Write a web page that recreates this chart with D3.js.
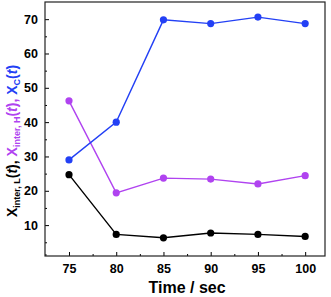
<!DOCTYPE html>
<html>
<head>
<meta charset="utf-8">
<script src="https://cdn.jsdelivr.net/npm/d3@7"></script>
<style>
  body { margin: 0; background: #fff; }
  text { font-family: "Liberation Sans", Arial, sans-serif; font-weight: bold; }
</style>
</head>
<body>
<svg id="chart" width="331" height="297"></svg>
<script>
const times = [75, 80, 85, 90, 95, 100];
const xC = [29, 40, 69.8, 68.7, 70.6, 68.7];
const xInterH = [46.2, 19.4, 23.7, 23.4, 22.0, 24.4];
const xInterL = [24.7, 7.3, 6.3, 7.7, 7.3, 6.7];
const xTicks = [75, 80, 85, 90, 95, 100];
const yTicks = [10, 20, 30, 40, 50, 60, 70];

const series = [
  { name: "L", values: xInterL, color: "#000000" },
  { name: "H", values: xInterH, color: "#b043f0" },
  { name: "C", values: xC, color: "#2340f5" }
];

const margin = { left: 45, right: 6, top: 2, bottom: 41 },
      W = 331, H = 297,
      width = W - margin.left - margin.right,
      height = H - margin.top - margin.bottom;

const svg = d3.select("#chart");
const chart = svg.append("g")
    .attr("transform", `translate(${margin.left}, ${margin.top})`);

const xScale = d3.scaleLinear().domain([72.46, 102.1]).range([0, width]);
const yScale = d3.scaleLinear().domain([1, 75]).range([height, 0]);

// minor ticks
const xMinor = d3.range(72.5, 102.1, 2.5).filter(v => v % 5 !== 0);
const yMinor = d3.range(5, 75, 5).filter(v => v % 10 !== 0);

const xAxis = d3.axisBottom(xScale).tickValues(xTicks).tickSizeInner(-4).tickSizeOuter(0).tickPadding(8);
const yAxis = d3.axisLeft(yScale).tickValues(yTicks).tickSizeInner(-4).tickSizeOuter(0).tickPadding(7);

chart.append("g").attr("transform", `translate(0, ${height})`)
    .call(xAxis)
    .call(g => g.select(".domain").remove())
    .call(g => g.selectAll("text").attr("font-size", 12.5).attr("font-weight", "bold").attr("fill", "#000"));
chart.append("g")
    .call(yAxis)
    .call(g => g.select(".domain").remove())
    .call(g => g.selectAll("text").attr("font-size", 12.5).attr("font-weight", "bold").attr("fill", "#000"));

chart.append("g").attr("transform", `translate(0, ${height})`)
    .call(d3.axisBottom(xScale).tickValues(xMinor).tickSizeInner(-2).tickSizeOuter(0).tickFormat(""))
    .call(g => g.select(".domain").remove());
chart.append("g")
    .call(d3.axisLeft(yScale).tickValues(yMinor).tickSizeInner(-2).tickSizeOuter(0).tickFormat(""))
    .call(g => g.select(".domain").remove());

chart.selectAll(".tick line").attr("stroke", "#000");

chart.append("rect")
    .attr("width", width).attr("height", height)
    .attr("fill", "none").attr("stroke", "#222").attr("stroke-width", 1.2);

const line = d3.line().x((d, i) => xScale(times[i])).y(d => yScale(d));

series.forEach(s => {
  chart.append("path")
      .datum(s.values)
      .attr("d", line)
      .attr("fill", "none")
      .attr("stroke", s.color)
      .attr("stroke-width", 1.4);
  chart.selectAll(".dot-" + s.name)
      .data(s.values)
      .enter().append("circle")
      .attr("class", "dot-" + s.name)
      .attr("cx", (d, i) => xScale(times[i]))
      .attr("cy", d => yScale(d))
      .attr("r", 3.6)
      .attr("fill", s.color);
});

// x title
svg.append("text")
    .attr("x", margin.left + xScale(87.5))
    .attr("y", 293)
    .attr("text-anchor", "middle")
    .attr("font-size", 16)
    .text("Time / sec");

// y title
const yt = svg.append("text")
    .attr("transform", `translate(17, ${margin.top + height / 2 + 12}) rotate(-90)`)
    .attr("text-anchor", "middle")
    .attr("font-size", 14);
const parts = [
  { t: "X", c: "#000" }, { t: "inter, L", c: "#000", sub: true }, { t: "(", c: "#000" }, { t: "t", c: "#000", it: true }, { t: "), ", c: "#000" },
  { t: "X", c: "#b043f0" }, { t: "inter, H", c: "#b043f0", sub: true }, { t: "(", c: "#b043f0" }, { t: "t", c: "#b043f0", it: true }, { t: "), ", c: "#b043f0" },
  { t: "X", c: "#2340f5" }, { t: "C", c: "#2340f5", sub: true }, { t: "(", c: "#2340f5" }, { t: "t", c: "#2340f5", it: true }, { t: ")", c: "#2340f5" }
];
let wasSub = false;
parts.forEach(p => {
  const ts = yt.append("tspan").attr("fill", p.c).text(p.t);
  if (p.sub) { ts.attr("font-size", 9).attr("dy", 2.5); wasSub = true; }
  else if (wasSub) { ts.attr("dy", -2.5); wasSub = false; }
  if (p.it) ts.attr("font-style", "italic");
});
</script>
</body>
</html>
